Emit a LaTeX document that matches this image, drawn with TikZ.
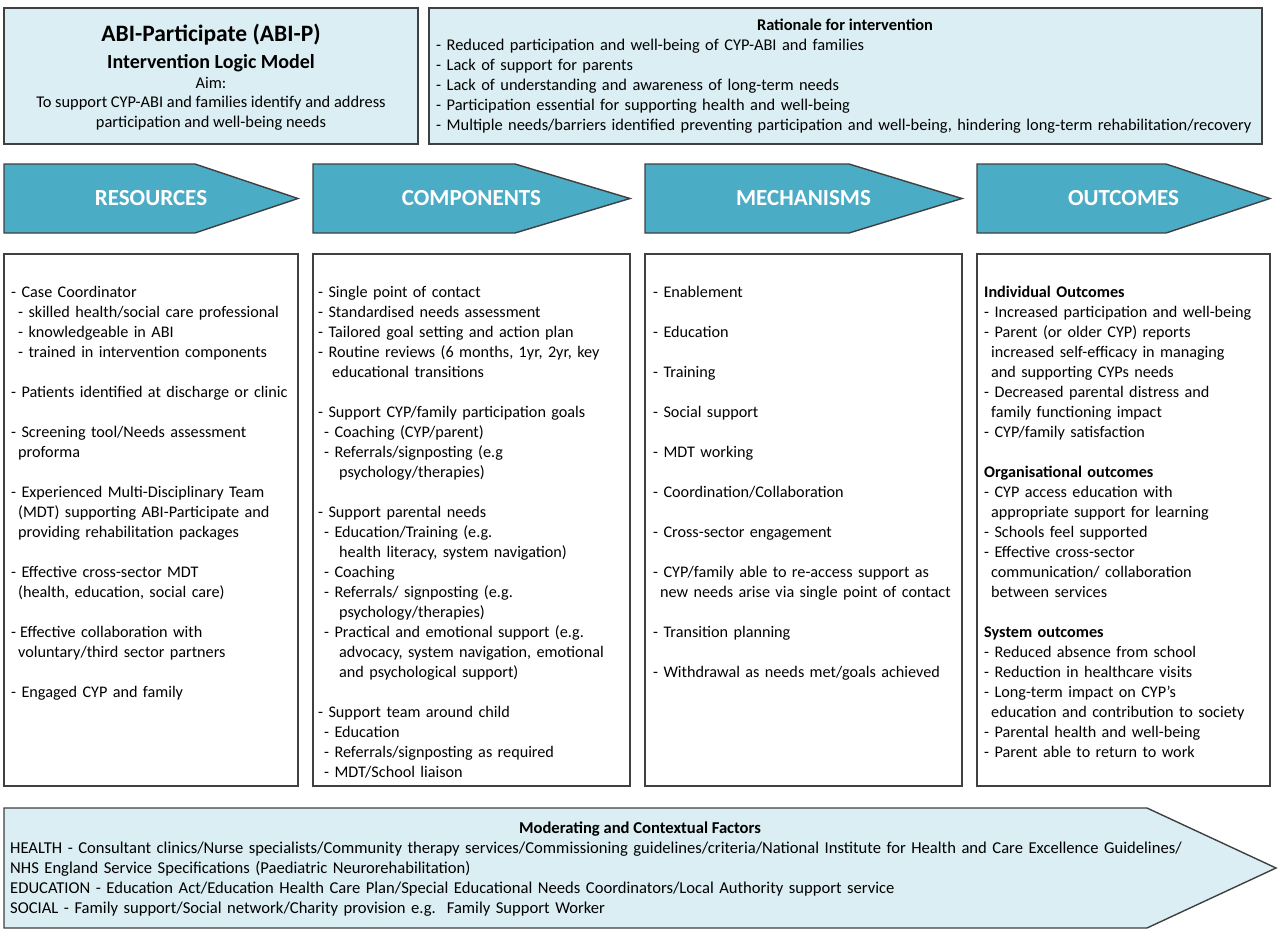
\documentclass[tikz,border=0pt]{standalone}
\usepackage{fontspec}
\setmainfont{Carlito}
\definecolor{lightaqua}{RGB}{219,238,243}
\definecolor{aqua}{RGB}{75,172,198}
\definecolor{edgegrey}{RGB}{64,64,64}
\newcommand{\ind}[1]{\hspace*{#1pt}}
\begin{document}
\begin{tikzpicture}[x=1pt,y=-1pt,
  panel/.style={draw=edgegrey,line width=1.4pt,fill=lightaqua},
  colbox/.style={draw=edgegrey,line width=1.4pt,fill=white},
  banner/.style={draw=edgegrey,line width=1.4pt,fill=aqua},
  bannertext/.style={text=white,inner sep=0pt,font=\fontsize{23}{26}\selectfont\bfseries},
  body/.style={font=\fontsize{16.2}{20}\selectfont,align=left,inner sep=0pt,anchor=base west,text width=330pt},
  cbody/.style={font=\fontsize{16.4}{20}\selectfont,align=left,inner sep=0pt,anchor=base west,text width=1250pt},
  mbody/.style={font=\fontsize{16.6}{20}\selectfont,align=left,inner sep=0pt,anchor=base west,text width=1250pt},
  line/.style={inner sep=0pt,anchor=base},
]
\useasboundingbox (0,0) rectangle (1280,937);

% top panels
\draw[panel] (4,8) rectangle (418,144);
\draw[panel] (429,8) rectangle (1262,144);

\node[line,font=\fontsize{23.5}{26}\selectfont\bfseries] (t1) at (211,41) {ABI-Participate (ABI-P)};
\node[line,font=\fontsize{20}{22}\selectfont\bfseries] (t2) at (211,68) {Intervention Logic Model};
\node[line,font=\fontsize{16.4}{20}\selectfont] (t3) at (211,88) {Aim:};
\node[line,font=\fontsize{16.4}{20}\selectfont] (t4) at (211,107) {To support CYP-ABI and families identify and address};
\node[line,font=\fontsize{16.4}{20}\selectfont] (t5) at (211,127) {participation and well-being needs};

\node[line,font=\fontsize{16.4}{20}\selectfont\bfseries] (rh) at (845,30) {Rationale for intervention};
\node[cbody] (rt) at (436,50) {%
- Reduced participation and well-being of CYP-ABI and families\\
- Lack of support for parents\\
- Lack of understanding and awareness of long-term needs\\
- Participation essential for supporting health and well-being\\
- Multiple needs/barriers identified preventing participation and well-being, hindering long-term rehabilitation/recovery};

% banners
\draw[banner] (4,164) -- (195,164) -- (298,198.5) -- (195,233) -- (4,233) -- cycle;
\draw[banner] (313,164) -- (515,164) -- (630,198.5) -- (515,233) -- (313,233) -- cycle;
\draw[banner] (645,164) -- (849,164) -- (962,198.5) -- (849,233) -- (645,233) -- cycle;
\draw[banner] (977,164) -- (1166,164) -- (1270,198.5) -- (1166,233) -- (977,233) -- cycle;
\node[bannertext] (b1) at (151,198.5) {RESOURCES};
\node[bannertext] (b2) at (471.5,198.5) {COMPONENTS};
\node[bannertext] (b3) at (803.5,198.5) {MECHANISMS};
\node[bannertext] (b4) at (1123.5,198.5) {OUTCOMES};

% column boxes
\draw[colbox] (4,254) rectangle (298,786);
\draw[colbox] (313,254) rectangle (630,786);
\draw[colbox] (645,254) rectangle (962,786);
\draw[colbox] (977,254) rectangle (1270,786);

\node[body] (c1) at (11,297) {%
- Case Coordinator\\
\ind{7}- skilled health/social care professional\\
\ind{7}- knowledgeable in ABI\\
\ind{7}- trained in intervention components\\[20pt]
- Patients identified at discharge or clinic\\[20pt]
- Screening tool/Needs assessment\\
\ind{7}proforma\\[20pt]
- Experienced Multi-Disciplinary Team\\
\ind{7}(MDT) supporting ABI-Participate and\\
\ind{7}providing rehabilitation packages\\[20pt]
- Effective cross-sector MDT\\
\ind{7}(health, education, social care)\\[20pt]
-\ind{4}Effective collaboration with\\
\ind{7}voluntary/third sector partners\\[20pt]
- Engaged CYP and family};

\node[body] (c2) at (318,297) {%
- Single point of contact\\
- Standardised needs assessment\\
- Tailored goal setting and action plan\\
- Routine reviews (6 months, 1yr, 2yr, key\\
\ind{14}educational transitions\\[20pt]
- Support CYP/family participation goals\\
\ind{6}- Coaching (CYP/parent)\\
\ind{6}- Referrals/signposting (e.g\\
\ind{21}psychology/therapies)\\[20pt]
- Support parental needs\\
\ind{6}- Education/Training (e.g.\\
\ind{21}health literacy, system navigation)\\
\ind{6}- Coaching\\
\ind{6}- Referrals/ signposting (e.g.\\
\ind{21}psychology/therapies)\\
\ind{6}- Practical and emotional support (e.g.\\
\ind{21}advocacy, system navigation, emotional\\
\ind{21}and psychological support)\\[20pt]
- Support team around child\\
\ind{6}- Education\\
\ind{6}- Referrals/signposting as required\\
\ind{6}- MDT/School liaison};

\node[body] (c3) at (653,297) {%
- Enablement\\[20pt]
- Education\\[20pt]
- Training\\[20pt]
- Social support\\[20pt]
- MDT working\\[20pt]
- Coordination/Collaboration\\[20pt]
- Cross-sector engagement\\[20pt]
- CYP/family able to re-access support as\\
\ind{7}new needs arise via single point of contact\\[20pt]
- Transition planning\\[20pt]
- Withdrawal as needs met/goals achieved};

\node[body] (c4) at (984,297) {%
\textbf{Individual Outcomes}\\
- Increased participation and well-being\\
- Parent (or older CYP) reports\\
\ind{7}increased self-efficacy in managing\\
\ind{7}and supporting CYPs needs\\
- Decreased parental distress and\\
\ind{7}family functioning impact\\
- CYP/family satisfaction\\[20pt]
\textbf{Organisational outcomes}\\
- CYP access education with\\
\ind{7}appropriate support for learning\\
- Schools feel supported\\
- Effective cross-sector\\
\ind{7}communication/ collaboration\\
\ind{7}between services\\[20pt]
\textbf{System outcomes}\\
- Reduced absence from school\\
- Reduction in healthcare visits\\
- Long-term impact on CYP’s\\
\ind{7}education and contribution to society\\
- Parental health and well-being\\
- Parent able to return to work};

% bottom banner
\draw[panel] (4,808) -- (1147,808) -- (1276,868) -- (1147,928) -- (4,928) -- cycle;
\node[line,font=\fontsize{16.6}{20}\selectfont\bfseries] (mh) at (640,833) {Moderating and Contextual Factors};
\node[mbody] (mt) at (10,853.5) {%
HEALTH - Consultant clinics/Nurse specialists/Community therapy services/Commissioning guidelines/criteria/National Institute for Health and Care Excellence Guidelines/\\
NHS England Service Specifications (Paediatric Neurorehabilitation)\\
EDUCATION - Education Act/Education Health Care Plan/Special Educational Needs Coordinators/Local Authority support service\\
SOCIAL - Family support/Social network/Charity provision e.g.\ \ Family Support Worker};
\end{tikzpicture}
\end{document}
